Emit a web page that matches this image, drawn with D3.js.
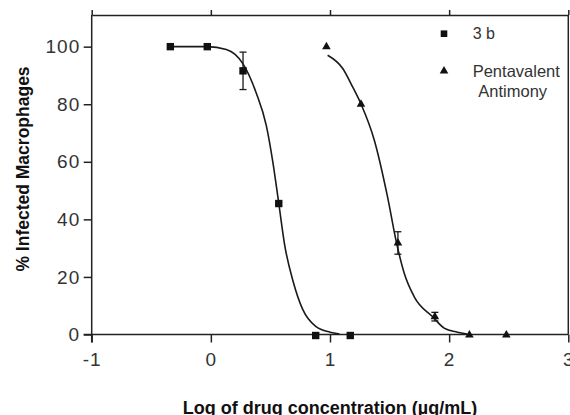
<!DOCTYPE html>
<html>
<head>
<meta charset="utf-8">
<script src="https://cdn.jsdelivr.net/npm/d3@7"></script>
<style>
  body { margin: 0; background: #fff; }
  svg { display: block; font-family: "Liberation Sans", Arial, sans-serif; }
  .axis path, .axis line { stroke: #222; stroke-width: 1.5; }
  .axis text { fill: #333; font-size: 19px; letter-spacing: 1px; font-family: "Liberation Sans", Arial, sans-serif; }
  .axisText { font-weight: bold; fill: #111; }
</style>
</head>
<body>
<div id="chart"></div>
<script>
// data
// 3 b (squares)
let arr3bX = [-0.34, -0.03, 0.27, 0.57, 0.88, 1.17];
let arr3bY = [100, 100, 91.6, 45.5, 0, 0];
let arr3bErr = [0, 0, 6.5, 0, 0, 0];

// Pentavalent Antimony (triangles)
let arrSbX = [0.97, 1.26, 1.57, 1.88, 2.17, 2.48];
let arrSbY = [100, 80, 31.8, 6.2, 0, 0];
let arrSbErr = [0, 0, 3.9, 1.5, 0, 0];

// fitted curves
let arrFit3bX = [-0.34, -0.03, 0.13, 0.27, 0.38, 0.466, 0.52, 0.57, 0.62, 0.69, 0.77, 0.88, 1.0, 1.08];
let arrFit3bY = [100, 100, 99, 94, 84, 72.5, 60, 45.6, 31, 18.5, 8.8, 2.8, 0.8, 0.2];
let arrFitSbX = [0.98, 1.107, 1.19, 1.261, 1.372, 1.483, 1.559, 1.623, 1.707, 1.866, 1.958, 2.069, 2.15];
let arrFitSbY = [97, 92.4, 86, 80, 67.5, 47.8, 31.7, 21.3, 13.1, 6.0, 2.2, 0.8, 0.2];

// ticks
let arrXTicks = [-1, 0, 1, 2, 3];
let arrYTicks = [0, 20, 40, 60, 80, 100];

let arrLegend = ["3 b", "Pentavalent", "Antimony"];
let strXLabel = "Log of drug concentration (\u00b5g/mL)";
let strYLabel = "% Infected Macrophages";

// total size of SVG
let intTotalWid = 570;
let intTotalHgt = 415;

// chart frame
let objFrame = { left: 91.7, right: 568.3, top: 15, bottom: 334.5 };

let svg = d3.select("#chart")
  .append("svg")
  .attr("width", intTotalWid)
  .attr("height", intTotalHgt);

// scales
let fnX = d3.scaleLinear().domain([-1, 3]).range([objFrame.left, objFrame.right]);
let fnY = d3.scaleLinear().domain([0, 111]).range([objFrame.bottom, objFrame.top]);

// axes (plain hyphen for negatives, like the original)
let fnFmt = d => String(d);

svg.append("g")
  .attr("class", "axis")
  .attr("transform", `translate(0, ${objFrame.bottom})`)
  .call(d3.axisBottom(fnX).tickValues(arrXTicks).tickFormat(fnFmt).tickSize(8).tickPadding(10).tickSizeOuter(0))
  .call(g => g.select(".domain").attr("d", `M${objFrame.left - 8},0H${objFrame.right}`));

svg.append("g")
  .attr("class", "axis")
  .attr("transform", `translate(${objFrame.left}, 0)`)
  .call(d3.axisLeft(fnY).tickValues(arrYTicks).tickFormat(fnFmt).tickSize(8).tickPadding(3.5).tickSizeOuter(0))
  .call(g => g.select(".domain").attr("d", `M0,${objFrame.top}V${objFrame.bottom + 8}`));

// top border with small outward ticks
svg.append("g")
  .attr("class", "axis")
  .attr("transform", `translate(0, ${objFrame.top})`)
  .call(d3.axisTop(fnX).tickValues(arrXTicks).tickSize(5).tickSizeOuter(0).tickFormat(""));

// right border
svg.append("line")
  .attr("x1", objFrame.right).attr("x2", objFrame.right)
  .attr("y1", objFrame.top).attr("y2", objFrame.bottom)
  .attr("stroke", "#222").attr("stroke-width", 1.5);

// fitted curves
let fnLine = d3.line()
  .x(d => fnX(d[0]))
  .y(d => fnY(d[1]))
  .curve(d3.curveMonotoneX);

[[arrFit3bX, arrFit3bY], [arrFitSbX, arrFitSbY]].forEach(([arrX, arrY]) => {
  svg.append("path")
    .datum(arrX.map((x, i) => [x, arrY[i]]))
    .attr("d", fnLine)
    .attr("fill", "none")
    .attr("stroke", "#1a1a1a")
    .attr("stroke-width", 1.6);
});

// error bars
function drawErr(arrX, arrY, arrE) {
  let arrPts = arrX.map((x, i) => ({ x: x, y: arrY[i], e: arrE[i] })).filter(d => d.e > 0);
  let g = svg.append("g").attr("stroke", "#1a1a1a").attr("stroke-width", 1.3);
  arrPts.forEach(d => {
    let cx = fnX(d.x);
    g.append("line").attr("x1", cx).attr("x2", cx)
      .attr("y1", fnY(d.y + d.e)).attr("y2", fnY(d.y - d.e));
    [d.y + d.e, d.y - d.e].forEach(v => {
      g.append("line").attr("x1", cx - 3.5).attr("x2", cx + 3.5)
        .attr("y1", fnY(v)).attr("y2", fnY(v));
    });
  });
}
drawErr(arr3bX, arr3bY, arr3bErr);
drawErr(arrSbX, arrSbY, arrSbErr);

// markers
svg.selectAll(".sq")
  .data(arr3bX.map((x, i) => [x, arr3bY[i]]))
  .enter()
  .append("rect")
  .attr("class", "sq")
  .attr("x", d => fnX(d[0]) - 3.7)
  .attr("y", d => fnY(d[1]) - 3.7 + (d[1] === 0 ? 1 : 0))
  .attr("width", 7.4)
  .attr("height", 7.4)
  .attr("fill", "#111");

let fnTri = d3.symbol().type(d3.symbolTriangle).size(32);
svg.selectAll(".tri")
  .data(arrSbX.map((x, i) => [x, arrSbY[i]]))
  .enter()
  .append("path")
  .attr("class", "tri")
  .attr("d", fnTri)
  .attr("transform", d => `translate(${fnX(d[0])}, ${fnY(d[1]) + (d[1] === 0 ? 0.5 : 0)})`)
  .attr("fill", "#111");

// legend
svg.append("rect")
  .attr("x", 444 - 3.3).attr("y", 33.7 - 3.3)
  .attr("width", 6.6).attr("height", 6.6)
  .attr("fill", "#111");
svg.append("path")
  .attr("d", fnTri)
  .attr("transform", "translate(444, 71)")
  .attr("fill", "#111");

svg.append("text")
  .attr("x", 472.7).attr("y", 39.3)
  .attr("font-size", 16)
  .attr("fill", "#333")
  .text(arrLegend[0]);
svg.append("text")
  .attr("x", 472.7).attr("y", 76.7)
  .attr("font-size", 16.5)
  .attr("fill", "#333")
  .text(arrLegend[1]);
svg.append("text")
  .attr("x", 478.3).attr("y", 97)
  .attr("font-size", 16.5)
  .attr("fill", "#333")
  .text(arrLegend[2]);

// axis labels
svg.append("text")
  .attr("class", "axisText")
  .attr("transform", "rotate(-90)")
  .attr("x", -169)
  .attr("y", 28.5)
  .attr("text-anchor", "middle")
  .attr("font-size", 17.5)
  .text(strYLabel);

svg.append("text")
  .attr("class", "axisText")
  .attr("x", (objFrame.left + objFrame.right) / 2)
  .attr("y", 413.5)
  .attr("text-anchor", "middle")
  .attr("font-size", 18)
  .text(strXLabel);
</script>
</body>
</html>
